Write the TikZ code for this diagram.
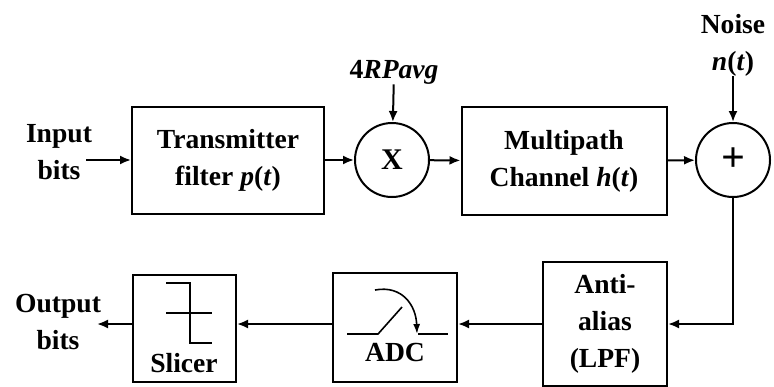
\documentclass[tikz,border=0pt]{standalone}
\usepackage{fontspec}
\setmainfont{Liberation Serif}
\usetikzlibrary{arrows.meta}

\begin{document}
\begin{tikzpicture}[x=0.5pt,y=-0.5pt,
		font=\bfseries\fontsize{13.8}{18.5}\selectfont,
		block/.style={draw, line width=1pt, inner sep=0pt, align=center},
		mixer/.style={draw, circle, line width=1pt, minimum size=37pt, inner sep=0pt},
		lbl/.style={inner sep=0pt, align=center},
		sig/.style={line width=1pt, -{Latex[length=5.5pt,width=4.5pt]}}]
	\useasboundingbox (0,0) rectangle (774,386);

	% transmitter side
	\node[lbl] (inp) at (59,152) {Input\\bits};
	\coordinate (inA) at (86,160);
	\node[block, minimum width=96pt, minimum height=53.5pt] (tx) at (228,160) {Transmitter\\filter \textit{p}(\textit{t})};
	\node[mixer, font=\bfseries\fontsize{15}{15}\selectfont] (mx) at (392,160) {X};
	\node[lbl] (gain) at (394,72) {4\textit{RPavg}};
	\node[block, minimum width=102.5pt, minimum height=54pt] (ch) at (564,161) {Multipath\\Channel \textit{h}(\textit{t})};
	\node[mixer, font=\bfseries\fontsize{21}{21}\selectfont] (sum) at (733,160) {+};
	\node[lbl] (noise) at (733,45) {Noise\\\textit{n}(\textit{t})};

	% receiver side
	\node[block, minimum width=62pt, minimum height=62pt] (lpf) at (605,324) {Anti-\\alias\\(LPF)};
	\node[block, minimum width=62pt, minimum height=54.5pt] (adc) at (395,327.5) {};
	\node[lbl] (adct) at (395,352) {ADC};
	\node[block, minimum width=51.5pt, minimum height=53.5pt] (sl) at (184.5,328.5) {};
	\node[lbl] (slt) at (184,363) {Slicer};
	\node[lbl] (outp) at (58,322) {Output\\bits};
	\coordinate (outA) at (97,324);

	% sampling switch
	\draw[line width=0.8pt] (347,334) -- (378,334) -- (402,307);
	\draw[line width=0.8pt] (418,334) -- (448,334);
	\draw[line width=0.8pt, -{Latex[length=5pt,width=3.5pt]}] (375,290) .. controls (402,285) and (416,305) .. (417,334);

	% decision characteristic
	\draw[line width=0.8pt] (166,283) -- (190,283) -- (190,343) -- (212,343);
	\draw[line width=0.8pt] (166,313) -- (212,313);

	% signal flow
	\draw[sig] (inA) -- (tx);
	\draw[sig] (tx) -- (mx);
	\draw[sig] (gain) -- (mx);
	\draw[sig] (mx) -- (ch);
	\draw[sig] (ch) -- (sum);
	\draw[sig] (noise) -- (sum);
	\draw[sig] (sum) |- (lpf);
	\draw[sig] (lpf.west) -- (lpf.west -| adc.east);
	\draw[sig] (lpf.west -| adc.west) -- (lpf.west -| sl.east);
	\draw[sig] (lpf.west -| sl.west) -- (outA);
\end{tikzpicture}
\end{document}
